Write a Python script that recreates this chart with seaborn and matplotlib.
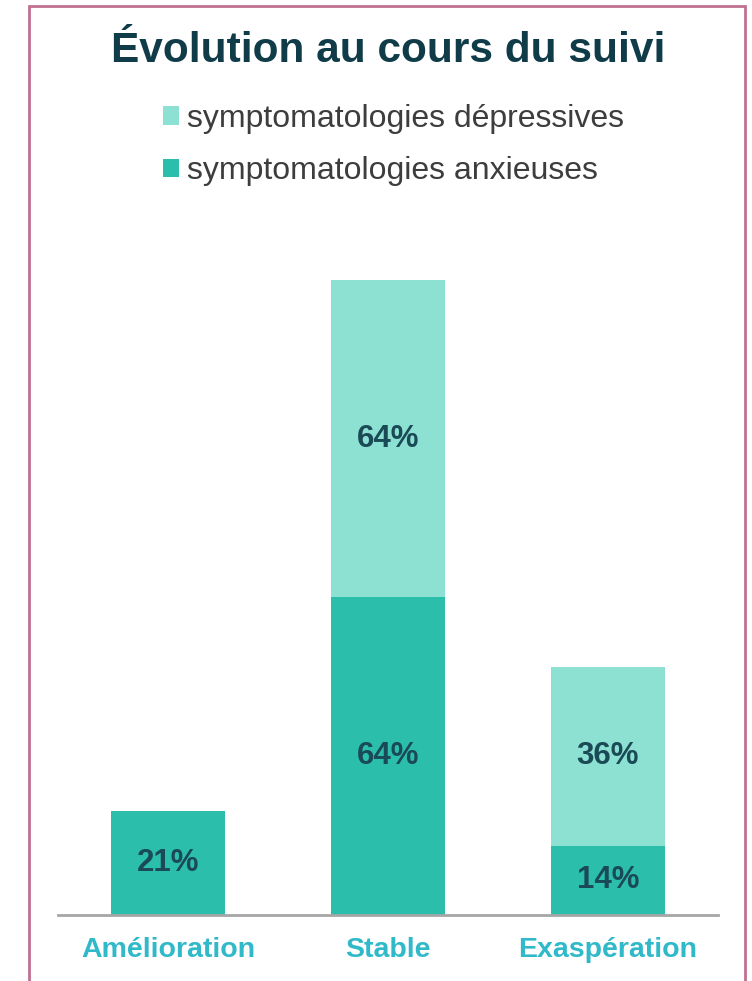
import matplotlib
matplotlib.use("Agg")
import matplotlib.pyplot as plt
from matplotlib.patches import Rectangle, Patch
import seaborn as sns
import pandas as pd

categories = ["Amélioration", "Stable", "Exaspération"]
anxieuses = [21, 64, 14]
depressives = [0, 64, 36]
series_names = ["symptomatologies dépressives", "symptomatologies anxieuses"]

col_anx = "#2bbfab"
col_dep = "#8ce1d3"
label_col = "#1b4a57"

sns.set_theme(style="white")
plt.rcParams["font.family"] = ["Liberation Sans", "DejaVu Sans"]

df = pd.DataFrame({"cat": categories, "anx": anxieuses, "dep": depressives})

fig = plt.figure(figsize=(7.52, 9.81), dpi=100)
ax = fig.add_axes([58 / 752, 1 - 915 / 981, 660 / 752, 645 / 981])

sns.barplot(data=df, x="cat", y="anx", color=col_anx, width=0.52,
            saturation=1, ax=ax, linewidth=0)
sns.barplot(data=df, x="cat", y="dep", color=col_dep, width=0.52,
            saturation=1, ax=ax, linewidth=0, bottom=df["anx"])

ax.set_ylim(0, 130)
ax.set_xlim(-0.5, 2.5)
ax.set_xlabel("")
ax.set_ylabel("")
ax.set_yticks([])
for side in ["top", "right", "left"]:
    ax.spines[side].set_visible(False)
ax.spines["bottom"].set_color("#a6a6a6")
ax.spines["bottom"].set_linewidth(2)
ax.tick_params(axis="x", length=0, pad=16)
for t in ax.get_xticklabels():
    t.set_fontsize(20.5)
    t.set_fontweight("bold")
    t.set_color("#30b9c9")

# value labels centred in each segment
for i, (a, d) in enumerate(zip(anxieuses, depressives)):
    if a > 0:
        ax.text(i, a / 2, f"{a}%", ha="center", va="center", fontsize=22.5,
                fontweight="bold", color=label_col)
    if d > 0:
        ax.text(i, a + d / 2, f"{d}%", ha="center", va="center", fontsize=22.5,
                fontweight="bold", color=label_col)

fig.text(388 / 752, 1 - 51 / 981, "Évolution au cours du suivi", ha="center",
         va="center", fontsize=30.5, fontweight="bold", color="#0f3c48")

handles = [Patch(facecolor=col_dep, edgecolor="none"),
           Patch(facecolor=col_anx, edgecolor="none")]
fig.legend(handles, series_names, loc="center left",
           bbox_to_anchor=(134 / 752, 1 - 145 / 981), frameon=False,
           fontsize=23, labelcolor="#3d3d3d", handlelength=0.5,
           handleheight=0.5, handletextpad=0.25, labelspacing=0.7)

# outer frame
fig.patches.append(Rectangle((29 / 752, -0.05), (745 - 29) / 752, 1.05 - 6 / 981,
                             transform=fig.transFigure, fill=False,
                             edgecolor="#c07090", linewidth=2))

fig.savefig("out.png", dpi=100)
